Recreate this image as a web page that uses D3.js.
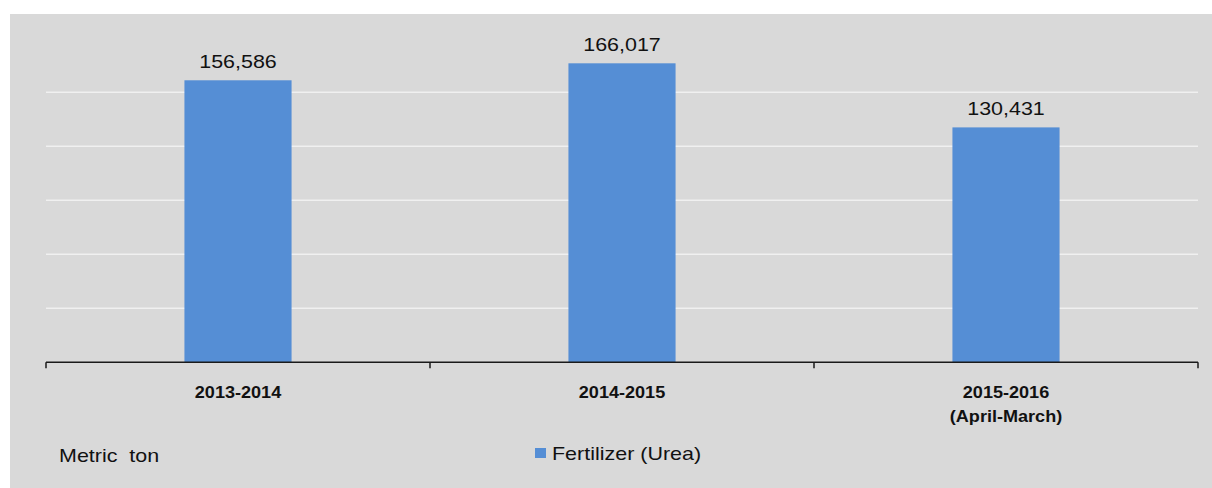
<!DOCTYPE html>
<html>
<head>
<meta charset="utf-8">
<script src="https://cdn.jsdelivr.net/npm/d3@7/dist/d3.min.js"></script>
<style>
  html, body { margin: 0; padding: 0; background: #ffffff; }
  svg { display: block; }
  text { font-family: "Liberation Sans", Arial, sans-serif; fill: #111; }
</style>
</head>
<body>
<svg id="chart" width="1212" height="488"></svg>
<script>
const categories = ["2013-2014", "2014-2015", "2015-2016\n(April-March)"];
const values = [156586, 166017, 130431];
const gridTicks = [30000, 60000, 90000, 120000, 150000];
const seriesName = "Fertilizer (Urea)";
const unitLabel = "Metric  ton";

const W = 1212, H = 488;
const svg = d3.select("#chart");
const sx = 1.13; // horizontal stretch of text as in the reference

svg.append("rect").attr("x", 10).attr("y", 14).attr("width", W - 10).attr("height", H - 14).attr("fill", "#d9d9d9");

const x0 = 46, x1 = 1198, yBase = 362.3;
const y = d3.scaleLinear().domain([0, 180000]).range([yBase, yBase - 54.03 * 6]);
const xBand = d3.scaleBand().domain(categories).range([x0, x1]).paddingInner(0).paddingOuter(0);
const xBar = d3.scaleBand().domain(categories).range([x0, x1]).paddingInner(0.721).paddingOuter(0.3605);

// gridlines
svg.append("g").selectAll("line").data(gridTicks).join("line")
  .attr("x1", x0).attr("x2", x1)
  .attr("y1", d => y(d)).attr("y2", d => y(d))
  .attr("stroke", "#f0f0f0").attr("stroke-width", 1.5);

// bars
svg.append("g").selectAll("rect").data(values).join("rect")
  .attr("x", (d, i) => xBar(categories[i]))
  .attr("width", xBar.bandwidth())
  .attr("y", d => y(d))
  .attr("height", d => yBase - y(d))
  .attr("fill", "#558ed5");

// axis line & ticks
svg.append("line").attr("x1", x0).attr("x2", x1).attr("y1", yBase).attr("y2", yBase)
  .attr("stroke", "#1a1a1a").attr("stroke-width", 1.5);
const tickXs = categories.map(c => xBand(c)).concat([xBand(categories[categories.length - 1]) + xBand.bandwidth()]);
svg.append("g").selectAll("line").data(tickXs).join("line")
  .attr("x1", d => d).attr("x2", d => d).attr("y1", yBase).attr("y2", yBase + 6)
  .attr("stroke", "#1a1a1a").attr("stroke-width", 1.5);

// value labels
const fmt = d3.format(",");
svg.append("g").selectAll("text").data(values).join("text")
  .attr("transform", (d, i) => `translate(${xBar(categories[i]) + xBar.bandwidth() / 2},${y(d) - 12}) scale(${sx},1)`)
  .attr("text-anchor", "middle")
  .style("font-size", "19px")
  .text(d => fmt(d));

// category labels
categories.forEach(c => {
  const lines = c.split("\n");
  const g = svg.append("text")
    .attr("transform", `translate(${xBand(c) + xBand.bandwidth() / 2},398) scale(${sx},1)`)
    .attr("text-anchor", "middle")
    .style("font-size", "16px").style("font-weight", "bold");
  lines.forEach((l, i) => g.append("tspan").attr("x", 0).attr("dy", i === 0 ? 0 : 24).text(l));
});

// unit label
svg.append("text").attr("transform", `translate(59,462) scale(${sx},1)`)
  .style("font-size", "19px").style("white-space", "pre").attr("xml:space", "preserve").text(unitLabel);

// legend
svg.append("rect").attr("x", 535).attr("y", 448).attr("width", 11).attr("height", 10).attr("fill", "#558ed5");
svg.append("text").attr("transform", `translate(552,460) scale(${sx},1)`)
  .style("font-size", "19px").text(seriesName);
</script>
</body>
</html>
